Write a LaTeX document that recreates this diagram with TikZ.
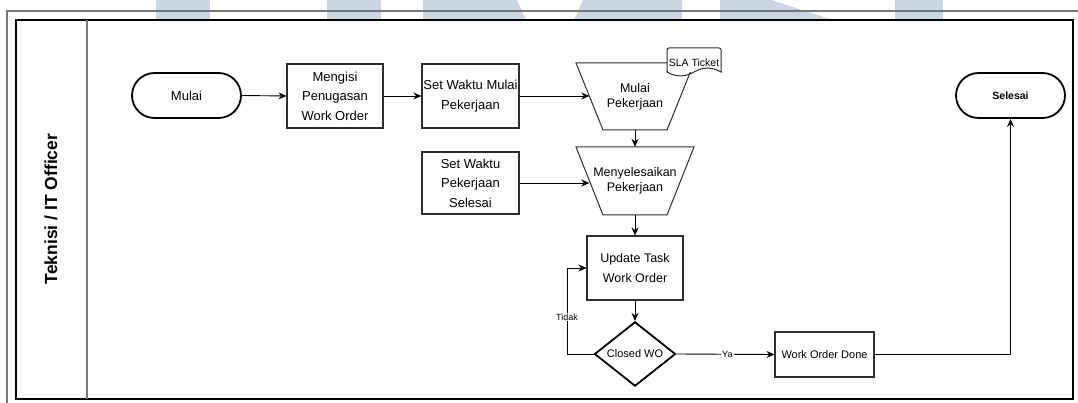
\documentclass[tikz,border=0pt]{standalone}
\usepackage{fontspec}
\setmainfont{Liberation Sans}
\usetikzlibrary{shapes.geometric,shapes.misc,arrows.meta}

\definecolor{wmblue}{RGB}{201,214,227}
\definecolor{edgegray}{RGB}{45,45,45}
\definecolor{framegray}{RGB}{120,120,120}

\begin{document}
\begin{tikzpicture}[x=1pt,y=-1pt,
  every node/.style={inner sep=0pt, align=center},
  txt/.style={font=\fontsize{13}{19.5}\selectfont},
  box/.style={rectangle, draw=edgegray, line width=1.1pt, fill=white, txt},
  term/.style={rounded rectangle, draw=black, line width=1.8pt, fill=white,
    minimum width=109pt, minimum height=45pt},
  manop/.style={rectangle, minimum width=118pt, minimum height=67pt,
    font=\fontsize{12.5}{15}\selectfont},
  manopedge/.style={draw=edgegray, line width=1pt, fill=white},
  decision/.style={diamond, draw=black, line width=1.8pt, fill=white,
    minimum width=81pt, minimum height=55pt, font=\fontsize{11}{13}\selectfont},
  arr/.style={draw=black, line width=0.9pt, -{Stealth[length=8pt,width=7pt]}},
  lbl/.style={fill=white, inner sep=1pt, font=\fontsize{9}{11}\selectfont},
]
\useasboundingbox (0,0) rectangle (1078,403);

% faint lettering along the top edge
\fill[wmblue] (156,0) rectangle (210,20);
\fill[wmblue] (327,0) rectangle (381,20);
\fill[wmblue] (423,0) -- (517,0) -- (526,20) -- (423,20) -- cycle;
\fill[wmblue] (583,0) -- (682,0) -- (682,20) -- (574,20) -- cycle;
\fill[wmblue] (720,0) -- (771,0) -- (833,20) -- (720,20) -- cycle;
\fill[wmblue] (895,0) rectangle (943,20);

% page frame and swimlane
\draw[framegray, line width=2pt] (7,403) -- (7,11) -- (1078,11);
\draw[black, line width=1.2pt, fill=white] (16,20) rectangle (1073,399);
\draw[framegray, line width=1.4pt] (87,20) -- (87,399);
\node[rotate=90, font=\bfseries\fontsize{17.5}{20}\selectfont] (lane) at (51,209) {Teknisi / IT Officer};

% manual-operation outlines (drawn under their labels)
\path (635,96.5) coordinate (mkc) (635,181) coordinate (skc);
\draw[manopedge] (576,63) -- (694,63) -- (667,130) -- (603,130) -- cycle;
\draw[manopedge] (576,147) -- (694,147) -- (667,215) -- (603,215) -- cycle;

% process steps
\node[term, font=\fontsize{13}{15}\selectfont] (mulai) at (186.5,95.5) {Mulai};
\node[box, minimum width=96pt, minimum height=64pt] (mengisi) at (335,96) {Mengisi\\Penugasan\\Work Order};
\node[box, minimum width=97pt, minimum height=64pt] (setmulai) at (470.5,96) {Set Waktu Mulai\\Pekerjaan};
\node[box, minimum width=97pt, minimum height=62pt] (setselesai) at (470.5,183) {Set Waktu\\Pekerjaan\\Selesai};
\node[manop] (mulaikerja) at (mkc) {Mulai\\Pekerjaan};
\node[manop, minimum height=68pt] (selesaikan) at (skc) {Menyelesaikan\\Pekerjaan};
\node[box, minimum width=96pt, minimum height=64pt, font=\fontsize{12.5}{20}\selectfont] (update) at (635,268) {Update Task\\Work Order};
\node[decision] (closed) at (635,354) {Closed WO};
\node[box, minimum width=99pt, minimum height=45pt, font=\fontsize{11}{13}\selectfont] (done) at (824.5,354.5) {Work Order Done};
\node[term, font=\bfseries\fontsize{10.5}{12}\selectfont] (selesai) at (1010.5,95.5) {Selesai};

% SLA ticket document
\draw[edgegray, line width=1pt, fill=white, rounded corners=2pt]
  (667,72) -- (667,48) -- (721,48) -- (721,72);
\fill[white] (667.6,48.6) rectangle (720.4,72);
\draw[edgegray, line width=1pt] (667,71) -- (667,72)
  .. controls (675.8,77.2) and (685.2,77.2) .. (694,72)
  .. controls (702.8,66.8) and (712.2,66.8) .. (721,72) -- (721,71);
\node[font=\fontsize{10.5}{12}\selectfont] (sla) at (694,63) {SLA Ticket};

% connectors
\draw[arr] (mulai.east) -- (mengisi.west);
\draw[arr] (mengisi.east) -- (setmulai.west);
\draw[arr] (setmulai.east) -- ([xshift=13.5pt]setmulai.east -| mulaikerja.west);
\draw[arr] (setselesai.east) -- ([xshift=13.5pt]setselesai.east -| selesaikan.west);
\draw[arr] (mulaikerja.south) -- (selesaikan.north);
\draw[arr] (selesaikan.south) -- (update.north);
\draw[arr] (update.south) -- (closed.north);
\draw[arr] (closed.west) -- (567,354) -- node[lbl, pos=0.43] {Tidak} (567,268) -- (update.west);
\draw[arr] (closed.east) -- node[lbl, pos=0.52] {Ya} (done.west);
\draw[arr] (done.east) -- (done.east -| selesai.south) -- (selesai.south);
\end{tikzpicture}
\end{document}
